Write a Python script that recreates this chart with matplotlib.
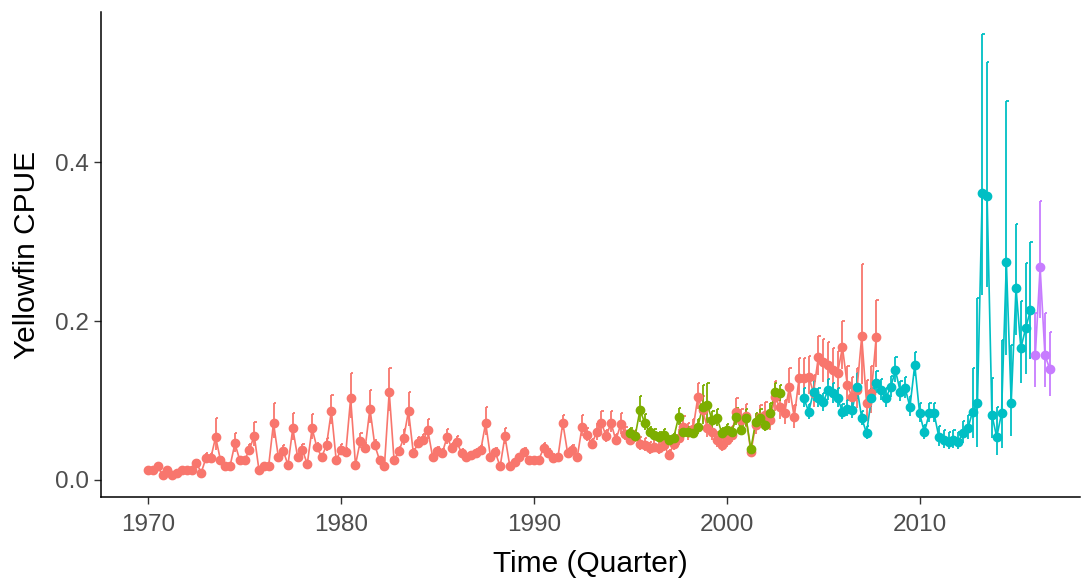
import numpy as np
import matplotlib
matplotlib.use("Agg")
import matplotlib.pyplot as plt

plt.rcParams['font.family'] = ['Liberation Sans', 'DejaVu Sans']

# ---- data (quarterly CPUE) ----
red_start = 1970.0
red_values = [
    0.012, 0.013, 0.017, 0.006, 0.012, 0.006, 0.009, 0.012, 0.012, 0.012,
    0.022, 0.009, 0.028, 0.028, 0.054, 0.025, 0.018, 0.018, 0.046, 0.025,
    0.025, 0.038, 0.056, 0.012, 0.018, 0.018, 0.072, 0.029, 0.037, 0.019,
    0.065, 0.029, 0.038, 0.020, 0.065, 0.041, 0.029, 0.044, 0.087, 0.025,
    0.038, 0.035, 0.103, 0.019, 0.049, 0.040, 0.090, 0.044, 0.025, 0.017,
    0.111, 0.025, 0.036, 0.053, 0.087, 0.034, 0.047, 0.050, 0.063, 0.029,
    0.036, 0.034, 0.054, 0.040, 0.048, 0.034, 0.029, 0.031, 0.034, 0.038,
    0.072, 0.029, 0.035, 0.017, 0.055, 0.018, 0.023, 0.029, 0.035, 0.025,
    0.025, 0.025, 0.040, 0.034, 0.028, 0.029, 0.072, 0.034, 0.038, 0.029,
    0.067, 0.057, 0.045, 0.060, 0.072, 0.055, 0.072, 0.050, 0.070, 0.058,
    0.050, 0.055, 0.045, 0.044, 0.040, 0.042, 0.040, 0.044, 0.031, 0.045,
    0.053, 0.067, 0.060, 0.064, 0.104, 0.088, 0.065, 0.060, 0.050, 0.044,
    0.050, 0.057, 0.086, 0.075, 0.080, 0.035, 0.069, 0.079, 0.082, 0.075,
    0.104, 0.092, 0.084, 0.117, 0.079, 0.128, 0.128, 0.130, 0.110, 0.155,
    0.148, 0.145, 0.138, 0.135, 0.167, 0.120, 0.104, 0.113, 0.181, 0.097,
    0.110, 0.180,
]
red_ratio = [
    1.15, 1.15, 1.15, 1.15, 1.15, 1.15, 1.15, 1.15, 1.15, 1.15,
    1.15, 1.15, 1.20, 1.20, 1.44, 1.15, 1.15, 1.15, 1.30, 1.15,
    1.15, 1.20, 1.30, 1.15, 1.15, 1.15, 1.35, 1.15, 1.20, 1.15,
    1.30, 1.15, 1.20, 1.15, 1.27, 1.15, 1.15, 1.20, 1.23, 1.15,
    1.20, 1.15, 1.31, 1.15, 1.20, 1.15, 1.26, 1.15, 1.15, 1.15,
    1.27, 1.15, 1.15, 1.20, 1.27, 1.15, 1.15, 1.15, 1.22, 1.15,
    1.15, 1.15, 1.20, 1.15, 1.15, 1.15, 1.15, 1.15, 1.15, 1.15,
    1.28, 1.15, 1.15, 1.15, 1.20, 1.15, 1.15, 1.15, 1.15, 1.15,
    1.15, 1.15, 1.15, 1.15, 1.15, 1.15, 1.14, 1.15, 1.15, 1.15,
    1.22, 1.15, 1.15, 1.20, 1.20, 1.15, 1.20, 1.15, 1.20, 1.15,
    1.15, 1.15, 1.20, 1.20, 1.20, 1.20, 1.20, 1.20, 1.20, 1.20,
    1.20, 1.20, 1.20, 1.20, 1.17, 1.20, 1.20, 1.20, 1.20, 1.20,
    1.20, 1.20, 1.20, 1.20, 1.20, 1.20, 1.20, 1.20, 1.20, 1.20,
    1.20, 1.20, 1.20, 1.20, 1.20, 1.20, 1.20, 1.20, 1.20, 1.17,
    1.20, 1.20, 1.20, 1.20, 1.20, 1.20, 1.25, 1.25, 1.50, 1.30,
    1.30, 1.26,
]

green_start = 1995.0
green_values = [
    0.059, 0.055, 0.088, 0.072, 0.060, 0.057, 0.054, 0.057, 0.050, 0.053,
    0.079, 0.060, 0.060, 0.059, 0.067, 0.092, 0.094, 0.075, 0.078, 0.059,
    0.063, 0.060, 0.079, 0.063, 0.078, 0.039, 0.073, 0.078, 0.069, 0.084,
    0.111, 0.109,
]
green_ratio = [
    1.12, 1.12, 1.20, 1.15, 1.12, 1.12, 1.12, 1.12, 1.12, 1.12,
    1.15, 1.12, 1.12, 1.12, 1.15, 1.30, 1.30, 1.15, 1.15, 1.12,
    1.12, 1.12, 1.15, 1.12, 1.15, 1.12, 1.15, 1.15, 1.12, 1.15,
    1.10, 1.10,
]

teal_start = 2004.0
teal_values = [
    0.103, 0.086, 0.111, 0.103, 0.098, 0.113, 0.109, 0.103, 0.086, 0.090,
    0.088, 0.117, 0.078, 0.059, 0.103, 0.122, 0.113, 0.103, 0.117, 0.138,
    0.111, 0.116, 0.092, 0.145, 0.084, 0.060, 0.084, 0.084, 0.054, 0.050,
    0.048, 0.050, 0.048, 0.059, 0.065, 0.086, 0.097, 0.362, 0.358, 0.082,
    0.054, 0.084, 0.274, 0.097, 0.242, 0.166, 0.191, 0.214,
]
teal_ratio = [
    1.12, 1.12, 1.12, 1.12, 1.12, 1.12, 1.12, 1.12, 1.12, 1.12,
    1.12, 1.15, 1.12, 1.15, 1.12, 1.12, 1.12, 1.12, 1.12, 1.12,
    1.12, 1.12, 1.15, 1.11, 1.15, 1.15, 1.15, 1.15, 1.25, 1.25,
    1.25, 1.25, 1.25, 1.25, 1.25, 1.64, 2.36, 1.55, 1.47, 1.56,
    1.70, 2.10, 1.74, 1.75, 1.33, 1.36, 1.43, 1.40,
]

purple_start = 2016.0
purple_values = [0.157, 0.268, 0.157, 0.140]
purple_ratio = [1.34, 1.31, 1.34, 1.33]

series = [
    (red_start, red_values, red_ratio, '#F8766D'),
    (green_start, green_values, green_ratio, '#7CAE00'),
    (teal_start, teal_values, teal_ratio, '#00BFC4'),
    (purple_start, purple_values, purple_ratio, '#C77CFF'),
]

x_ticks = [1970, 1980, 1990, 2000, 2010]
y_ticks = [0.0, 0.2, 0.4]
y_tick_labels = ['0.0', '0.2', '0.4']

# ---- figure ----
fig = plt.figure(figsize=(10.87, 5.84), dpi=100)
ax = fig.add_axes([0.093, 0.149, 0.9006, 0.830])

for start, vals, ratio, col in series:
    v = np.asarray(vals)
    r = np.asarray(ratio)
    t = start + 0.25 * np.arange(len(v))
    lo = v / r
    hi = v * r
    ax.vlines(t, lo, hi, color=col, lw=1.3, zorder=2)
    ax.hlines(hi, t, t + 0.12, color=col, lw=1.3, zorder=2)
    ax.plot(t, v, color=col, lw=1.2, zorder=3)
    ax.plot(t, v, 'o', color=col, ms=6.0, mec=col, zorder=4)

ax.set_xlim(1967.56, 2018.32)
ax.set_ylim(-0.0214, 0.589)
ax.set_xticks(x_ticks)
ax.set_yticks(y_ticks)
ax.set_yticklabels(y_tick_labels)

for s in ['top', 'right']:
    ax.spines[s].set_visible(False)
for s in ['left', 'bottom']:
    ax.spines[s].set_linewidth(1.1)
    ax.spines[s].set_color('black')

ax.tick_params(axis='both', length=5, width=1.0, color='#333333',
               labelsize=17.5, labelcolor='#4D4D4D')
ax.tick_params(axis='x', pad=7)
ax.tick_params(axis='y', pad=4)
ax.set_xlabel('Time (Quarter)', fontsize=21.5, color='black', labelpad=10)
ax.set_ylabel('Yellowfin CPUE', fontsize=21.5, color='black', labelpad=10)

fig.savefig('out.png', dpi=100)
